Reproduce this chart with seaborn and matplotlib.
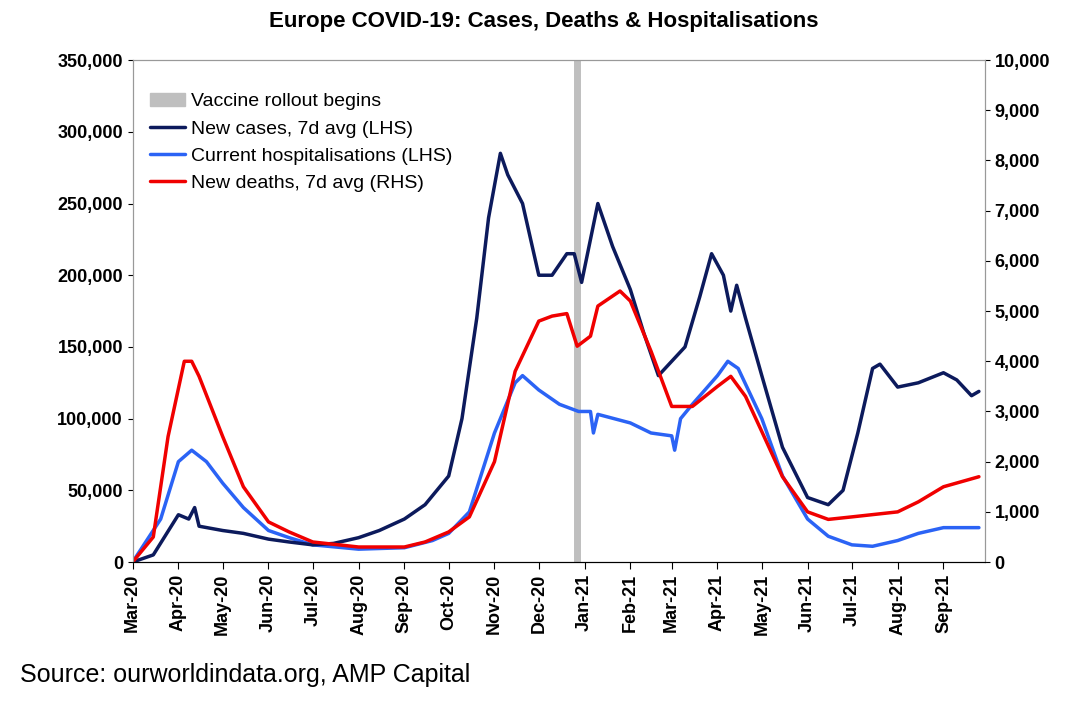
import matplotlib
matplotlib.use("Agg")
import matplotlib.pyplot as plt
import matplotlib.dates as mdates
import matplotlib.patches as mpatches
import seaborn as sns
import pandas as pd

sns.set_style("white")
plt.rcParams['font.family'] = ['Liberation Sans', 'DejaVu Sans']
plt.rcParams['text.color'] = 'black'
plt.rcParams['xtick.color'] = 'black'
plt.rcParams['ytick.color'] = 'black'

cases_dates = ["2020-03-01","2020-03-15","2020-04-01","2020-04-08","2020-04-12","2020-04-15","2020-05-01","2020-05-15","2020-06-01","2020-06-15","2020-07-01","2020-07-15","2020-08-01","2020-08-15","2020-09-01","2020-09-15","2020-10-01","2020-10-10","2020-10-20","2020-10-28","2020-11-05","2020-11-10","2020-11-20","2020-12-01","2020-12-10","2020-12-20","2020-12-25","2020-12-30","2021-01-05","2021-01-10","2021-01-20","2021-02-01","2021-02-10","2021-02-20","2021-03-01","2021-03-10","2021-03-20","2021-03-28","2021-04-05","2021-04-10","2021-04-14","2021-04-20","2021-05-01","2021-05-15","2021-06-01","2021-06-15","2021-06-25","2021-07-05","2021-07-15","2021-07-20","2021-08-01","2021-08-15","2021-09-01","2021-09-10","2021-09-20","2021-09-25"]
cases = [0,5000,33000,30000,38000,25000,22000,20000,16000,14000,12000,13000,17000,22000,30000,40000,60000,100000,170000,240000,285000,270000,250000,200000,200000,215000,215000,195000,225000,250000,220000,190000,160000,130000,140000,150000,185000,215000,200000,175000,193000,170000,130000,80000,45000,40000,50000,90000,135000,138000,122000,125000,132000,127000,116000,119000]

hosp_dates = ["2020-03-01","2020-03-20","2020-04-01","2020-04-10","2020-04-20","2020-05-01","2020-05-15","2020-06-01","2020-06-15","2020-07-01","2020-08-01","2020-09-01","2020-09-20","2020-10-01","2020-10-15","2020-11-01","2020-11-15","2020-11-20","2020-12-01","2020-12-15","2020-12-28","2021-01-05","2021-01-07","2021-01-10","2021-02-01","2021-02-15","2021-03-01","2021-03-03","2021-03-07","2021-03-15","2021-04-01","2021-04-08","2021-04-15","2021-05-01","2021-05-15","2021-06-01","2021-06-15","2021-07-01","2021-07-15","2021-08-01","2021-08-15","2021-09-01","2021-09-25"]
hosp = [0,30000,70000,78000,70000,55000,38000,22000,17000,12000,9000,10000,15000,20000,35000,90000,125000,130000,120000,110000,105000,105000,90000,103000,97000,90000,88000,78000,100000,110000,130000,140000,135000,100000,60000,30000,18000,12000,11000,15000,20000,24000,24000]

deaths_dates = ["2020-03-01","2020-03-15","2020-03-25","2020-04-05","2020-04-10","2020-04-15","2020-05-01","2020-05-15","2020-06-01","2020-06-15","2020-07-01","2020-08-01","2020-09-01","2020-09-15","2020-10-01","2020-10-15","2020-11-01","2020-11-15","2020-12-01","2020-12-10","2020-12-20","2020-12-27","2021-01-05","2021-01-10","2021-01-25","2021-02-01","2021-02-15","2021-03-01","2021-03-15","2021-04-01","2021-04-10","2021-04-20","2021-05-01","2021-05-15","2021-06-01","2021-06-15","2021-07-01","2021-08-01","2021-08-15","2021-09-01","2021-09-25"]
deaths = [0,500,2500,4000,4000,3700,2500,1500,800,600,400,300,300,400,600,900,2000,3800,4800,4900,4950,4300,4500,5100,5400,5200,4200,3100,3100,3500,3700,3300,2600,1700,1000,850,900,1000,1200,1500,1700]

vaccine_date = "2020-12-27"

fig, ax = plt.subplots(figsize=(10.87, 7.07), dpi=100)
fig.subplots_adjust(left=0.122, right=0.906, top=0.915, bottom=0.205)
ax2 = ax.twinx()

ax.axvline(pd.Timestamp(vaccine_date), color="#bfbfbf", lw=5, zorder=1)
sns.lineplot(x=pd.to_datetime(cases_dates), y=cases, ax=ax, color="#0c1a5c", lw=2.5, zorder=3)
sns.lineplot(x=pd.to_datetime(hosp_dates), y=hosp, ax=ax, color="#2b63f5", lw=2.5, zorder=2)
sns.lineplot(x=pd.to_datetime(deaths_dates), y=deaths, ax=ax2, color="#f00000", lw=2.5)

xmin, xmax = pd.Timestamp("2020-03-01"), pd.Timestamp("2021-09-29")
ax.set_xlim(xmin, xmax)
ax.set_ylim(0, 350000)
ax2.set_ylim(0, 10000)
ax.set_xlabel("")
ax2.set_xlabel("")
ax.set_yticks(range(0, 350001, 50000))
ax2.set_yticks(range(0, 10001, 1000))
ax.yaxis.set_major_formatter(matplotlib.ticker.FuncFormatter(lambda v, p: f"{int(v):,}"))
ax2.yaxis.set_major_formatter(matplotlib.ticker.FuncFormatter(lambda v, p: f"{int(v):,}"))
ax.xaxis.set_major_locator(mdates.MonthLocator())
ax.xaxis.set_major_formatter(mdates.DateFormatter("%b-%y"))
for a in (ax, ax2):
    a.tick_params(labelsize=13)
    for lab in a.get_yticklabels() + a.get_xticklabels():
        lab.set_fontweight("bold")
    for s in a.spines.values():
        s.set_color("#999999")
    a.spines['bottom'].set_color("black")
plt.setp(ax.get_xticklabels(), rotation=90)
ax.tick_params(axis='x', direction='out', length=5, bottom=True)

handles = [mpatches.Patch(color="#bfbfbf", label="Vaccine rollout begins"),
           plt.Line2D([], [], color="#0c1a5c", lw=2.5, label="New cases, 7d avg (LHS)"),
           plt.Line2D([], [], color="#2b63f5", lw=2.5, label="Current hospitalisations (LHS)"),
           plt.Line2D([], [], color="#f00000", lw=2.5, label="New deaths, 7d avg (RHS)")]
ax2.legend(handles=handles, loc="upper left", frameon=False, fontsize=14,
           handlelength=1.8, handletextpad=0.3, bbox_to_anchor=(0.0, 0.97))

fig.suptitle("Europe COVID-19: Cases, Deaths & Hospitalisations", fontsize=16, fontweight="bold", y=0.985)
fig.text(0.018, 0.035, "Source: ourworldindata.org, AMP Capital", fontsize=18)
fig.savefig("out.png", dpi=100)
